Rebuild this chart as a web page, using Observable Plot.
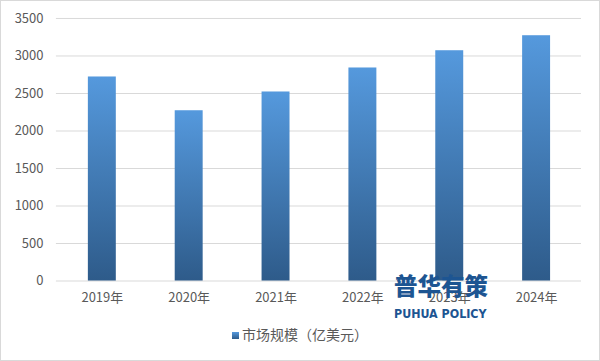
<!DOCTYPE html>
<html>
<head>
<meta charset="utf-8">
<script src="https://cdn.jsdelivr.net/npm/d3@7"></script>
<script src="https://cdn.jsdelivr.net/npm/@observablehq/plot@0.6"></script>
<style>
  html, body { margin: 0; padding: 0; background: #fff; }
  #wrap { position: relative; width: 600px; height: 361px; box-sizing: border-box; border: 1px solid #d9d9d9; background: #fff; overflow: hidden; font-family: "Microsoft YaHei", "Noto Sans CJK SC", sans-serif; }
  #chart { position: absolute; left: -1px; top: -1px; }
  #legend { position: absolute; left: 0; right: 0; top: 323px; text-align: center; font-size: 14px; color: #595959; }
  #legend .sw { display: inline-block; width: 7px; height: 7px; margin-right: 3px; vertical-align: 1px; background: linear-gradient(#5599dd, #2e5b8a); }
  #wm { position: absolute; left: 393px; top: 273px; color: #1d5592; font-family: "Noto Sans CJK SC", sans-serif; font-weight: 900; line-height: 1; }
  #wm .cn { font-size: 23.5px; }
  #wm .en { font-size: 13px; font-family: "Liberation Sans Narrow", "DejaVu Sans Condensed", "Roboto Condensed", sans-serif; font-weight: 700; margin-top: 9px; letter-spacing: 0px; transform: scaleX(0.95); transform-origin: left; white-space: nowrap; }
</style>
</head>
<body>
<div id="wrap">
  <div id="chart"></div>
  <div id="legend"><span class="sw"></span>市场规模（亿美元）</div>
  <div id="wm"><div class="cn">普华有策</div><div class="en">PUHUA POLICY</div></div>
</div>
<script>
const years = ["2019年", "2020年", "2021年", "2022年", "2023年", "2024年"];
const values = [2720, 2270, 2520, 2840, 3070, 3270];
const yTicks = [0, 500, 1000, 1500, 2000, 2500, 3000, 3500];

const data = years.map((y, i) => ({year: y, value: values[i]}));

const plot = Plot.plot({
  width: 600,
  height: 315,
  marginLeft: 56,
  marginRight: 18,
  marginTop: 18,
  marginBottom: 34,
  style: {fontFamily: '"Microsoft YaHei", "Noto Sans CJK SC", sans-serif', fontSize: "13px", color: "#595959", background: "transparent"},
  x: {domain: years, paddingInner: 0.68, paddingOuter: 0.34, label: null, axis: null},
  y: {domain: [0, 3500], label: null, axis: null},
  marks: [
    () => {
      const svg = d3.create("svg:defs");
      const g = svg.append("linearGradient").attr("id", "barGrad").attr("x1", 0).attr("y1", 0).attr("x2", 0).attr("y2", 1);
      g.append("stop").attr("offset", "0%").attr("stop-color", "#5599dd");
      g.append("stop").attr("offset", "100%").attr("stop-color", "#2e5b8a");
      return svg.node();
    },
    Plot.ruleY(yTicks, {stroke: "#d9d9d9", strokeWidth: 1}),
    Plot.barY(data, {x: "year", y: "value", fill: "url(#barGrad)"}),
    Plot.axisY({ticks: yTicks, tickFormat: d3.format("d"), tickSize: 0, tickPadding: 13, fontSize: 13}),
    Plot.axisX({tickSize: 0, tickPadding: 12, fontSize: 13})
  ]
});
document.getElementById("chart").appendChild(plot);
</script>
</body>
</html>
